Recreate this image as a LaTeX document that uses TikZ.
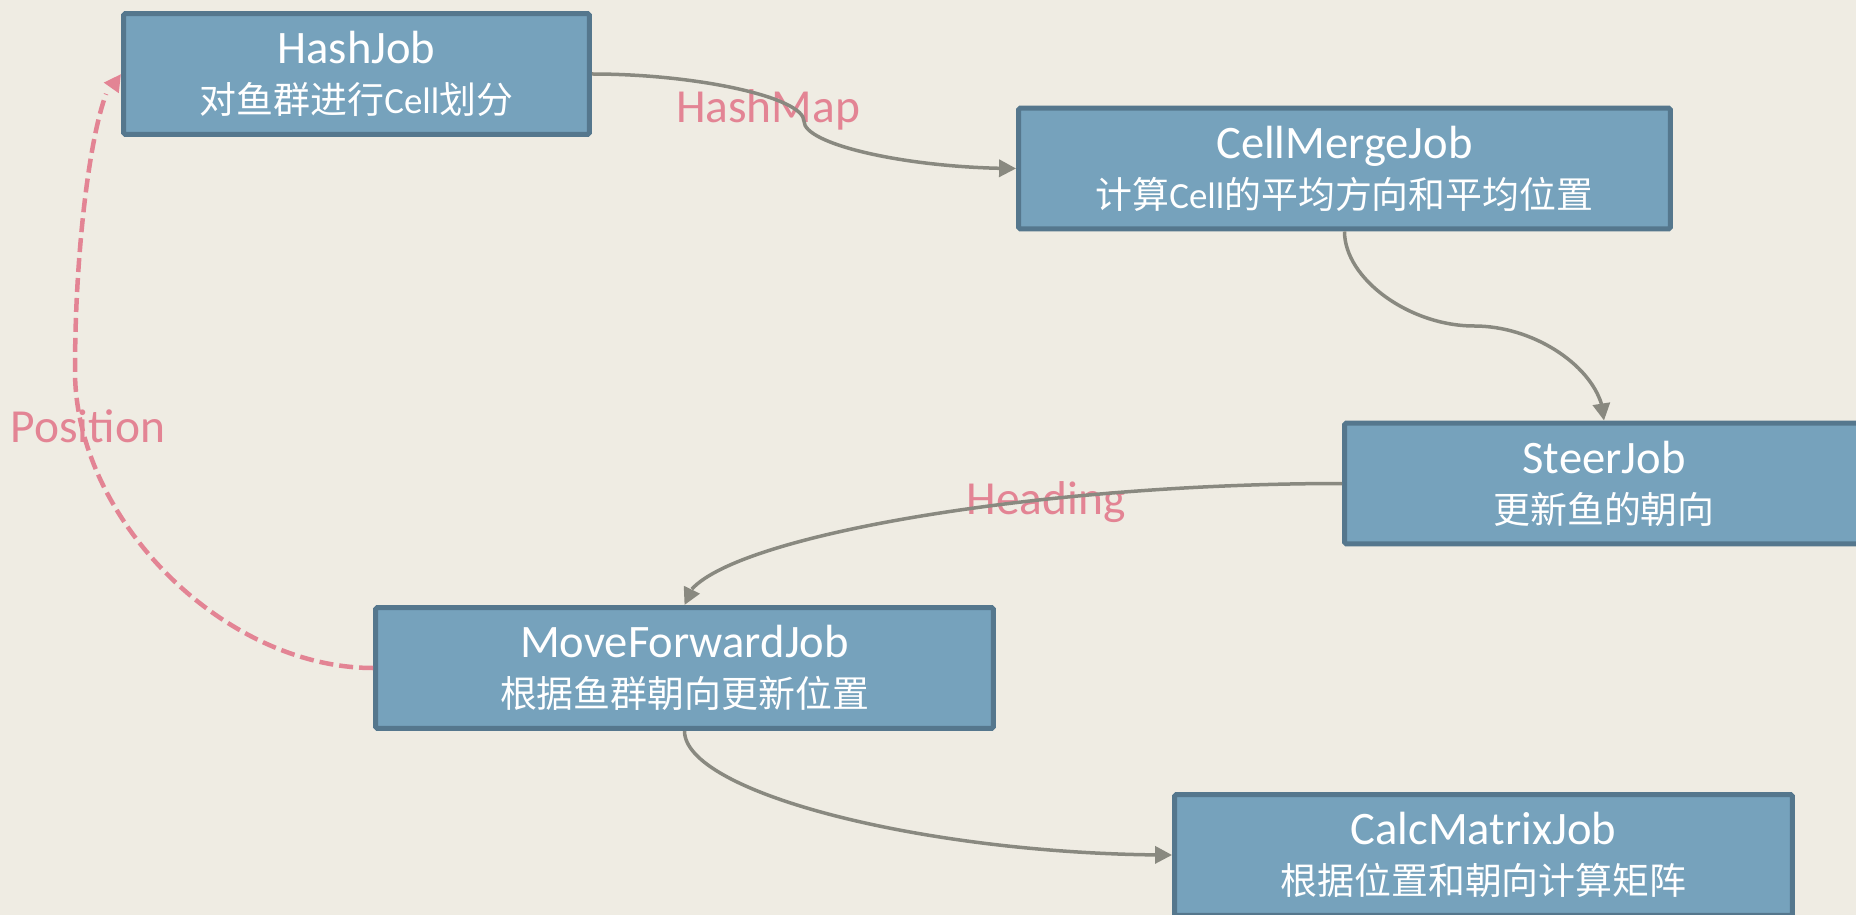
\documentclass[tikz,border=0pt]{standalone}
\usepackage{fontspec}
\setmainfont{Carlito}
\newfontfamily\cjk{Noto Sans CJK SC}
\usepackage{xcolor}
\usepackage{tikz}
\usetikzlibrary{arrows.meta,bending,calc}

\definecolor{bgpaper}{RGB}{239,236,227}
\definecolor{jobfill}{RGB}{118,162,188}
\definecolor{jobline}{RGB}{85,119,141}
\definecolor{flowgray}{RGB}{137,137,128}
\definecolor{flowpink}{RGB}{227,132,148}

\newcommand{\zh}[1]{{\cjk #1}}
\newcommand{\jobtitle}[1]{{\fontsize{26.5}{28.45}\selectfont #1}}

\begin{document}
\begin{tikzpicture}[
	x=0.02cm, y=-0.02cm,
	font=\fontsize{21}{28.45}\selectfont,
	jobblock/.style={draw=jobline, line width=0.1cm, fill=jobfill, text=white, rounded corners=1pt, align=center, inner sep=0pt, minimum height=2.42cm},
	flowlabel/.style={font=\fontsize{27}{32}\selectfont, text=flowpink, anchor=base, inner sep=0pt},
	dataarrow/.style={draw=flowgray, line width=0.07cm, -{Triangle[length=0.34cm,width=0.34cm]}},
	posarrow/.style={draw=flowpink, line width=0.09cm, dash pattern=on 0.28cm off 0.12cm, -{Triangle[length=0.34cm,width=0.34cm]}},
	hvh/.style={to path={let \p1=(\tikztostart), \p2=(\tikztotarget) in
		.. controls ({0.75*\x1+0.25*\x2},\y1) and ({0.5*\x1+0.5*\x2},{0.75*\y1+0.25*\y2}) .. ({0.5*\x1+0.5*\x2},{0.5*\y1+0.5*\y2})
		.. controls ({0.5*\x1+0.5*\x2},{0.25*\y1+0.75*\y2}) and ({0.25*\x1+0.75*\x2},\y2) .. (\p2) \tikztonodes}},
	vhv/.style={to path={let \p1=(\tikztostart), \p2=(\tikztotarget) in
		.. controls (\x1,{0.75*\y1+0.25*\y2}) and ({0.75*\x1+0.25*\x2},{0.5*\y1+0.5*\y2}) .. ({0.5*\x1+0.5*\x2},{0.5*\y1+0.5*\y2})
		.. controls ({0.25*\x1+0.75*\x2},{0.5*\y1+0.5*\y2}) and (\x2,{0.25*\y1+0.75*\y2}) .. (\p2) \tikztonodes}},
	hv/.style={to path={let \p1=(\tikztostart), \p2=(\tikztotarget) in
		.. controls ({0.5*\x1+0.5*\x2},\y1) and (\x2,{0.5*\y1+0.5*\y2}) .. (\p2) \tikztonodes}},
	vh/.style={to path={let \p1=(\tikztostart), \p2=(\tikztotarget) in
		.. controls (\x1,{0.5*\y1+0.5*\y2}) and ({0.5*\x1+0.5*\x2},\y2) .. (\p2) \tikztonodes}},
	hloop/.style={to path={let \p1=(\tikztostart), \p2=(\tikztotarget), \p3=(#1) in
		.. controls ({0.5*\x1+0.5*\x3},\y1) and (\x3,{0.75*\y1+0.25*\y2}) .. (\x3,{0.5*\y1+0.5*\y2})
		.. controls (\x3,{0.25*\y1+0.75*\y2}) and ({0.5*\x3+0.5*\x2},\y2) .. (\p2) \tikztonodes}}
	]
	
	% Background
	\fill[bgpaper] (0,0) rectangle (1856,915);
	\useasboundingbox (0,0) rectangle (1856,915);
	
	% Labels
	\node[flowlabel] (lblmap) at (768,123) {HashMap};
	\node[flowlabel] (lblpos) at (88,442) {Position};
	\node[flowlabel] (lblhead) at (1046,514) {Heading};
	
	% Jobs
	\node[jobblock, minimum width=9.32cm] (hash) at (356.5,74)
	{\jobtitle{HashJob}\\\zh{对鱼群进行}Cell\zh{划分}};
	\node[jobblock, minimum width=13.04cm] (cell) at (1344.5,168.5)
	{\jobtitle{CellMergeJob}\\\zh{计算}Cell\zh{的平均方向和平均位置}};
	\node[jobblock, minimum width=10.38cm] (steer) at (1604,483.5)
	{\jobtitle{SteerJob}\\\zh{更新鱼的朝向}};
	\node[jobblock, minimum width=12.36cm] (move) at (684.5,668)
	{\jobtitle{MoveForwardJob}\\\zh{根据鱼群朝向更新位置}};
	\node[jobblock, minimum width=12.36cm] (calc) at (1483.5,855)
	{\jobtitle{CalcMatrixJob}\\\zh{根据位置和朝向计算矩阵}};
	
	% Data flow
	\draw[dataarrow] (hash.east) to[hvh] (cell.west);
	\draw[dataarrow] (cell.south) to[vhv] (steer.north);
	\draw[dataarrow] (steer.west) to[hv] (move.north);
	\draw[dataarrow] (move.south) to[vh] (calc.west);
	
	% Position feedback
	\coordinate (posturn) at (75,371);
	\draw[posarrow] (move.west) to[hloop=posturn] (hash.west);
	
\end{tikzpicture}
\end{document}
